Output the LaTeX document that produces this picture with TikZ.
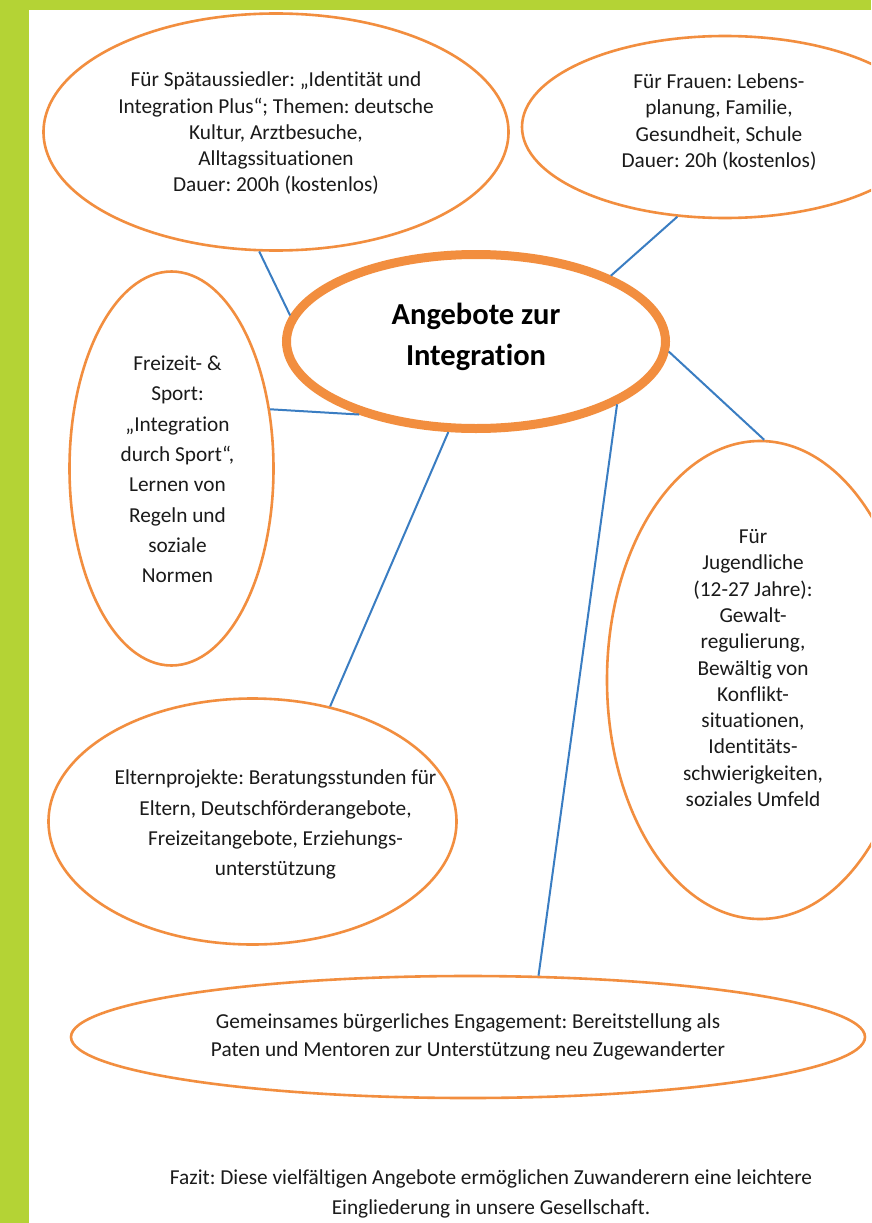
\documentclass[tikz,border=0pt]{standalone}
\usepackage{fontspec}
\setmainfont{Carlito}[Ligatures=NoCommon]
\usetikzlibrary{shapes.geometric}
\definecolor{pagegreen}{HTML}{B4D335}
\definecolor{ringorange}{HTML}{F28E3F}
\definecolor{linkblue}{HTML}{3A7DC2}
\definecolor{inktext}{HTML}{1A1A1A}
\tikzset{
  bubble/.style={ellipse, draw=ringorange, line width=2.6pt, inner sep=0pt,
    align=center, text=inktext, font=\frenchspacing\fontsize{21.3}{26.3}\selectfont},
  hub/.style={ellipse, draw=ringorange, line width=9pt, inner sep=0pt,
    align=center, text=black, font=\bfseries\fontsize{30.5}{41}\selectfont},
  link/.style={draw=linkblue, line width=2pt},
  note/.style={align=center, text=inktext, font=\frenchspacing\fontsize{21.3}{30}\selectfont}
}
% centred lines with extra room on the left (#1) and right (#2)
\newcommand\padlines[3]{\begin{tabular}{@{\hspace{#1}}c@{\hspace{#2}}}#3\end{tabular}}
\begin{document}
\begin{tikzpicture}[x=1pt,y=-1pt]
  \useasboundingbox (0,0) rectangle (871,1223);
  \clip (0,0) rectangle (871,1223);
  % page frame: green band on top and left
  \fill[pagegreen] (0,0) rectangle (871,1223);
  \fill[white] (29,10) rectangle (871,1223);

  % central topic
  \node[hub, minimum width=379pt, minimum height=174pt, text depth=14pt] (hub) at (476,341.5)
    {Angebote zur\\Integration};

  % surrounding offers
  \node[bubble, minimum width=465pt, minimum height=237pt, text depth=0pt] (spaet) at (276,132)
    {Für Spätaussiedler: „Identität und\\Integration Plus“; Themen: deutsche\\Kultur, Arztbesuche,\\Alltagssituationen\\Dauer: 200h (kostenlos)};
  \node[bubble, minimum width=406pt, minimum height=182pt, text depth=56pt] (frauen) at (725,127)
    {\padlines{0pt}{12pt}{Für Frauen: Lebens-\\planung, Familie,\\Gesundheit, Schule\\Dauer: 20h (kostenlos)}};
  \node[bubble, minimum width=204pt, minimum height=394pt, text depth=112pt,
        font=\frenchspacing\fontsize{21.3}{30.3}\selectfont] (sport) at (171.5,468.5)
    {\padlines{12pt}{0pt}{Freizeit- \&\\Sport:\\„Integration\\durch Sport“,\\Lernen von\\Regeln und\\soziale\\Normen}};
  \node[bubble, minimum width=306pt, minimum height=478pt, text depth=160pt] (jugend) at (760,680)
    {\padlines{0pt}{14pt}{Für\\Jugendliche\\(12-27 Jahre):\\Gewalt-\\regulierung,\\Bewältig von\\Konflikt-\\situationen,\\Identitäts-\\schwierigkeiten,\\soziales Umfeld}};
  \node[bubble, minimum width=408pt, minimum height=246pt, text depth=50pt,
        inner xsep=-62pt,
        font=\frenchspacing\fontsize{21.3}{30.3}\selectfont] (eltern) at (252.5,821.5)
    {\padlines{46pt}{0pt}{Elternprojekte: Beratungsstunden für\\Eltern, Deutschförderangebote,\\Freizeitangebote, Erziehungs-\\unterstützung}};
  \node[bubble, minimum width=794pt, minimum height=122pt,
        font=\frenchspacing\fontsize{21.3}{28}\selectfont] (engag) at (468,1037)
    {Gemeinsames bürgerliches Engagement: Bereitstellung als\\Paten und Mentoren zur Unterstützung neu Zugewanderter};

  % connectors from the centre
  \draw[link] (spaet.262) -- (hub.172);
  \draw[link] (hub.26) -- (frauen.242);
  \draw[link] (sport.31) -- (hub.212);
  \draw[link] (hub.357) -- (jugend.89.5);
  \draw[link] (hub.253) -- (eltern.56);
  \draw[link] (hub.336) -- (engag.41);

  % conclusion
  \node[note] (fazit) at (491,1194)
    {Fazit: Diese vielfältigen Angebote ermöglichen Zuwanderern eine leichtere\\Eingliederung in unsere Gesellschaft.};
\end{tikzpicture}
\end{document}
